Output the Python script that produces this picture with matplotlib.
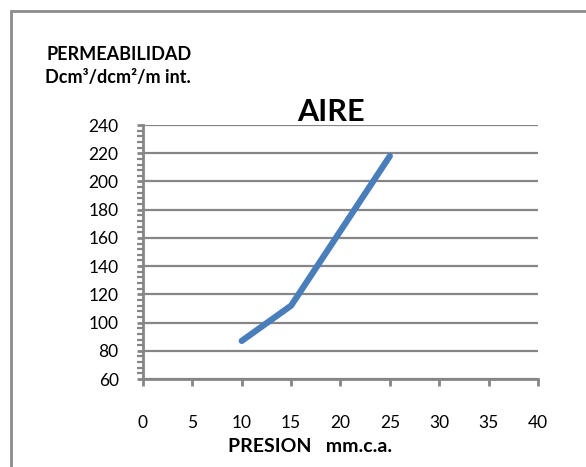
import matplotlib
matplotlib.use('Agg')
import matplotlib.pyplot as plt
from matplotlib.ticker import MultipleLocator
from matplotlib.patches import Rectangle

# datos
presion = [10, 15, 20, 25]
permeabilidad = [87, 112, 165, 218]
x_ticks = [0, 5, 10, 15, 20, 25, 30, 35, 40]
y_ticks = [60, 80, 100, 120, 140, 160, 180, 200, 220, 240]

plt.rcParams['font.family'] = ['Lato', 'DejaVu Sans']
gris = '#868686'

fig = plt.figure(figsize=(5.86, 4.67), dpi=100)
ax = fig.add_axes([0.244, 0.1884, 0.674, 0.5439])

# marco del gráfico
fig.patches.append(Rectangle((11 / 586, -0.1), 1.2, 1 - 11 / 467 + 0.1,
                             transform=fig.transFigure, fill=False,
                             edgecolor='#8c8c8c', linewidth=2))

ax.plot(presion, permeabilidad, color='#4a7ebb', linewidth=4.5,
        solid_capstyle='round', solid_joinstyle='round', zorder=3)

ax.set_xlim(0, 40)
ax.set_ylim(60, 240)
ax.set_xticks(x_ticks)
ax.set_yticks(y_ticks)
ax.yaxis.set_minor_locator(MultipleLocator(4))
ax.grid(axis='y', color=gris, linewidth=1.6)
ax.set_axisbelow(True)

for s in ['top', 'right']:
    ax.spines[s].set_visible(False)
for s in ['left', 'bottom']:
    ax.spines[s].set_color(gris)
    ax.spines[s].set_linewidth(2)

ax.tick_params(axis='x', length=5, width=2, color=gris, pad=21, labelsize=12.5)
ax.tick_params(axis='y', which='major', length=4.5, width=2, color=gris, pad=13, labelsize=12.5)
ax.tick_params(axis='y', which='minor', length=4, width=1.6, color=gris)

fig.text(119 / 586, 1 - 55 / 467, 'PERMEABILIDAD', ha='center', va='center',
         fontsize=13, fontweight='bold')
fig.text(118 / 586, 1 - 78 / 467, 'Dcm³/dcm²/m int.', ha='center', va='center',
         fontsize=13, fontweight='bold')
fig.text(331 / 586, 1 - 112 / 467, 'AIRE', ha='center', va='center',
         fontsize=22, fontweight='bold')
fig.text(310 / 586, 1 - 446 / 467, 'PRESION   mm.c.a.', ha='center', va='center',
         fontsize=14, fontweight='bold')

plt.savefig('out.png', dpi=100)
